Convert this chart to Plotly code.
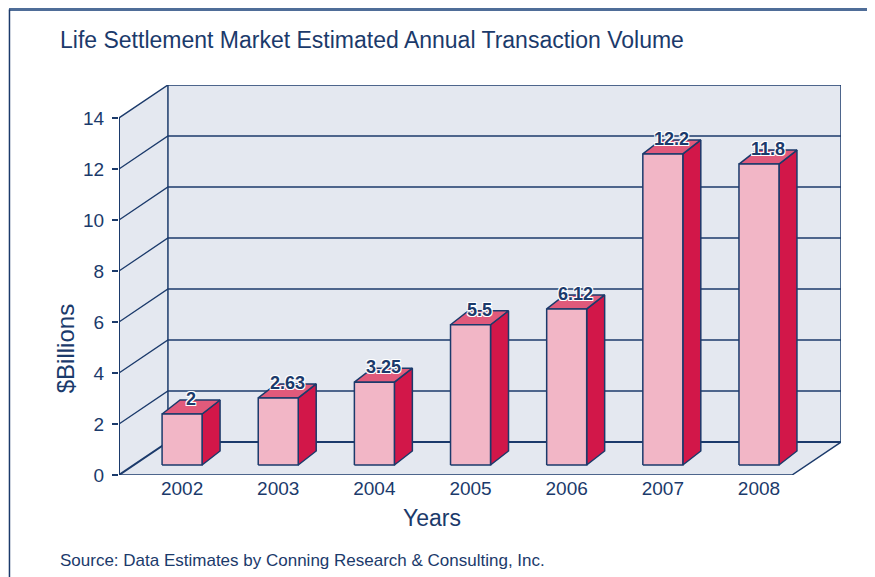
import plotly.graph_objects as go

# data
years = ["2002", "2003", "2004", "2005", "2006", "2007", "2008"]
volumes = [2, 2.63, 3.25, 5.5, 6.12, 12.2, 11.8]
value_labels = ["2", "2.63", "3.25", "5.5", "6.12", "12.2", "11.8"]
y_ticks = [0, 2, 4, 6, 8, 10, 12, 14]

NAVY = "#1b3a6b"
WALL = "#e4e8f0"
FRONT = "#f2b6c6"
SIDE = "#d21749"
TOP = "#e05a7b"
FONT = "Liberation Sans, Arial, sans-serif"

ymax = max(y_ticks)
n = len(years)
x0, x1 = -0.5, n - 0.5
# wall depth (in axis units)
DX, DY = 0.509, 1.294
# bar placement in depth
FX, FY = 0.156, 0.392  # front face offset
BX, BY = 0.187, 0.549  # bar depth
HW = 0.208  # half bar width

fig = go.Figure()


def poly(xs, ys, fill, lw=1.5, color=NAVY):
    fig.add_trace(go.Scatter(
        x=xs + [xs[0]], y=ys + [ys[0]], mode="lines", fill="toself",
        fillcolor=fill, line=dict(color=color, width=lw),
        hoverinfo="skip", showlegend=False,
    ))


def seg(xs, ys, lw=1.5):
    fig.add_trace(go.Scatter(
        x=xs, y=ys, mode="lines", line=dict(color=NAVY, width=lw),
        hoverinfo="skip", showlegend=False,
    ))


# walls
poly([x0, x0 + DX, x0 + DX, x0], [0, DY, ymax + DY, ymax], WALL, lw=0)
poly([x0, x1, x1 + DX, x0 + DX], [0, 0, DY, DY], WALL, lw=0)
poly([x0 + DX, x1 + DX, x1 + DX, x0 + DX], [DY, DY, ymax + DY, ymax + DY], WALL, lw=0)

# gridlines
for v in y_ticks[1:-1]:
    seg([x0, x0 + DX, x1 + DX], [v, v + DY, v + DY], lw=1.3)
# outlines
seg([x0, x0 + DX, x1 + DX, x1 + DX], [ymax, ymax + DY, ymax + DY, DY], lw=1.5)
seg([x0 + DX, x0 + DX], [DY, ymax + DY], lw=1.5)
seg([x0, x0 + DX, x1 + DX], [0, DY, DY], lw=2)
seg([x0, x1, x1 + DX], [0, 0, DY], lw=1.5)
seg([x0, x0], [0, ymax], lw=2)

# bars
for i, v in enumerate(volumes):
    l, r = i - HW + FX, i + HW + FX
    b, t = FY, FY + v
    poly([r, r + BX, r + BX, r], [b, b + BY, t + BY, t], SIDE)
    poly([l, r, r + BX, l + BX], [t, t, t + BY, t + BY], TOP)
    poly([l, r, r, l], [b, b, t, t], FRONT)
    fig.add_annotation(
        x=i + FX + BX / 2, y=t + BY, text="<b>%s</b>" % value_labels[i],
        showarrow=False, yanchor="middle", yshift=1,
        font=dict(family=FONT, size=18, color=NAVY,
                  shadow="1px 1px 0 white, -1px -1px 0 white, 1px -1px 0 white, -1px 1px 0 white"),
    )

fig.update_xaxes(
    range=[x0, x1 + DX], showgrid=False, zeroline=False, showline=False,
    tickvals=[i + FX for i in range(n)], ticktext=years, ticks="",
    tickfont=dict(family=FONT, size=19, color=NAVY),
)
fig.update_yaxes(
    range=[0, ymax + DY], showgrid=False, zeroline=False, showline=False,
    tickvals=y_ticks, ticks="outside", ticklen=6, tickwidth=1.5, tickcolor=NAVY,
    tickfont=dict(family=FONT, size=19, color=NAVY), ticklabelstandoff=4,
)

ann = dict(xref="paper", yref="paper", showarrow=False)
fig.add_annotation(**ann, x=-0.0845, y=1.115, xanchor="left", yanchor="middle",
                   text="Life Settlement Market Estimated Annual Transaction Volume",
                   font=dict(family=FONT, size=23, color=NAVY))
fig.add_annotation(**ann, x=0.4335, y=-0.110, xanchor="center", yanchor="middle",
                   text="Years", font=dict(family=FONT, size=23, color=NAVY))
fig.add_annotation(**ann, x=-0.0748, y=0.325, xanchor="center", yanchor="middle",
                   text="$Billions", textangle=-90, font=dict(family=FONT, size=24, color=NAVY))
fig.add_annotation(**ann, x=-0.0845, y=-0.218, xanchor="left", yanchor="middle",
                   text="Source: Data Estimates by Conning Research &amp; Consulting, Inc.",
                   font=dict(family=FONT, size=17, color=NAVY))

# page frame (kept just inside the figure area)
fig.add_shape(type="line", xref="paper", yref="paper", x0=-0.1524, x1=1.06, y0=1.1936, y1=1.1936,
              line=dict(color="#4f6d98", width=3))
fig.add_shape(type="line", xref="paper", yref="paper", x0=-0.1517, x1=-0.1517, y0=1.1936, y1=-0.3,
              line=dict(color=NAVY, width=1.5))

# the page adds an 8px body margin, so the figure is drawn shifted
fig.update_layout(
    width=875, height=577,
    margin=dict(l=111, r=42, t=77, b=110),
    paper_bgcolor="white", plot_bgcolor="white",
    showlegend=False,
)
fig.write_html("out.html")
